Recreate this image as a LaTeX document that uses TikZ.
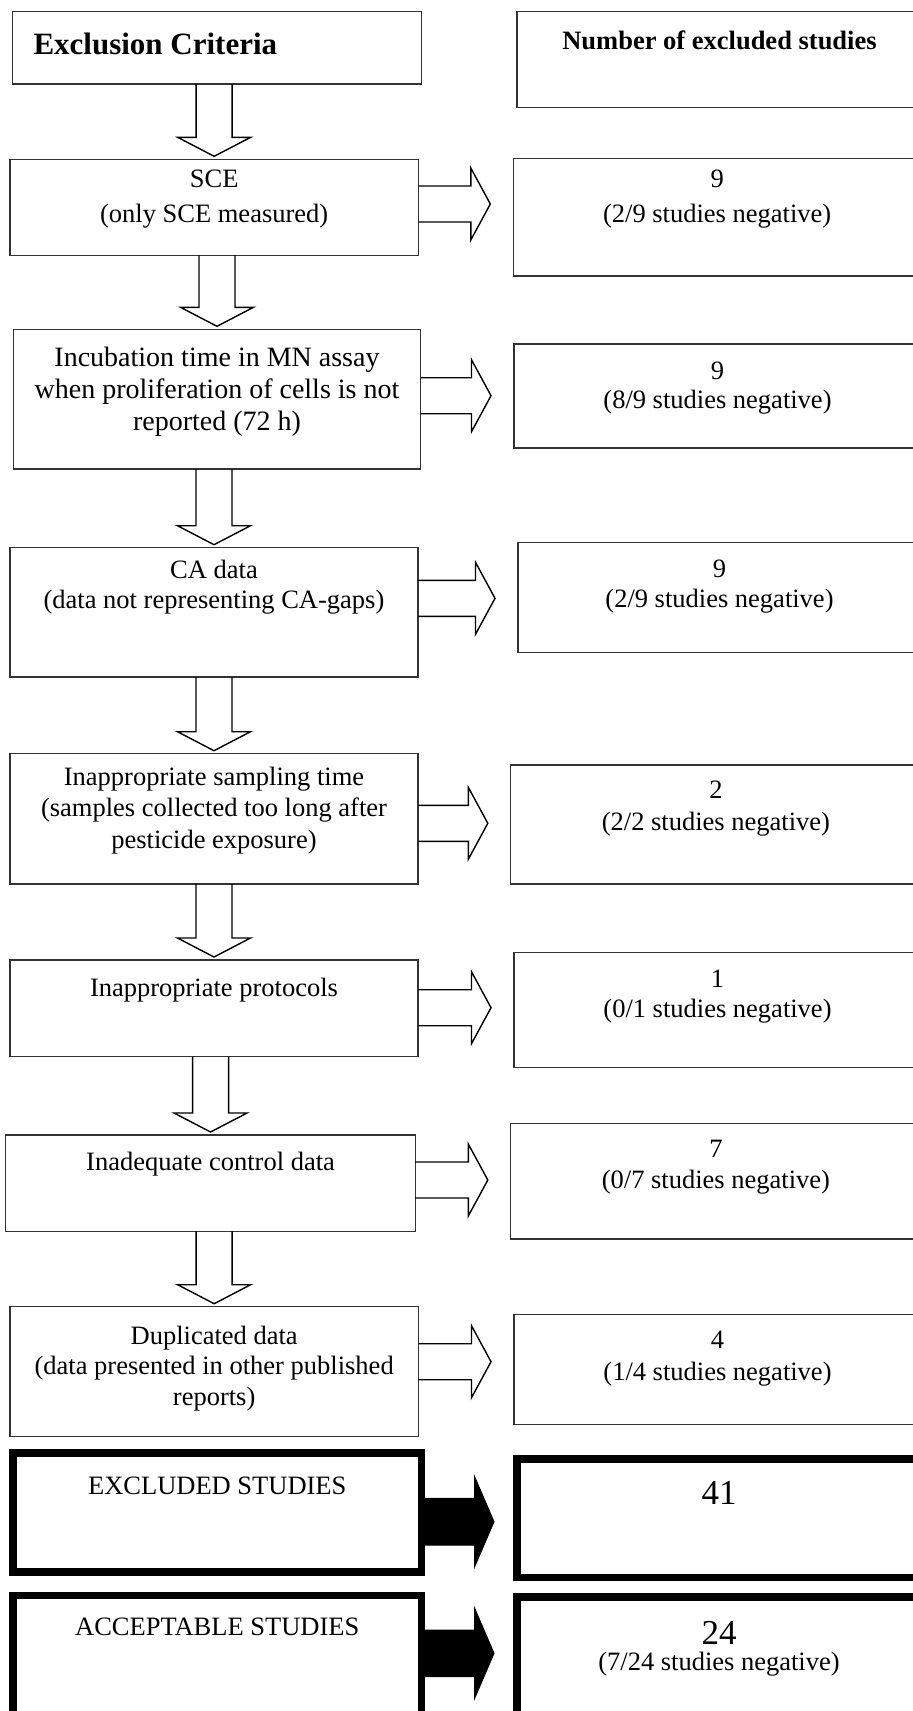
\documentclass[tikz,border=0pt]{standalone}
\usepackage{fontspec}
\setmainfont{Liberation Serif}
\usetikzlibrary{calc}

\tikzset{
  crit/.style={draw=black!80, line width=1.2pt, inner sep=0pt, outer sep=0pt},
  total/.style={draw=black, line width=7.7pt, inner sep=0pt, outer sep=0pt},
  txt/.style={inner sep=0pt, anchor=north, align=center, font=\fontsize{26.5}{30.5}\selectfont},
  hollow/.style={draw=black, line width=1.4pt, line join=miter},
  filled/.style={draw=black, fill=black, line width=1pt, line join=miter}
}

% down arrow from box #1 to box #2
\newcommand{\downarr}[2]{%
  \draw[hollow] ($(#2.north |- #1.south)+(-18,0)$) -- ($(#2.north)+(-18,-22)$)
    -- ++(-18.5,0) -- ($(#2.north)+(0,-3)$) -- ($(#2.north)+(36.5,-22)$)
    -- ++(-18.5,0) -- ($(#2.north |- #1.south)+(18,0)$);
}
% side arrow: style, from, to, height, half shaft, half head
\newcommand{\sidearr}[6]{%
  \draw[#1] ($(#2.east |- 0,#4)+(0,-#5)$) -- ($(#3.west |- 0,#4)+(-42.5,-#5)$)
    -- ($(#3.west |- 0,#4)+(-42.5,-#6)$) -- ($(#3.west |- 0,#4)+(-23,0)$)
    -- ($(#3.west |- 0,#4)+(-42.5,#6)$) -- ($(#3.west |- 0,#4)+(-42.5,#5)$)
    -- ($(#2.east |- 0,#4)+(0,#5)$);
}

\begin{document}
\begin{tikzpicture}[x=1pt,y=-1pt]
\clip (0,0) rectangle (913,1711);

\node[crit, minimum width=409, minimum height=72.3] (excl) at (217.2,47.85) {};
\node[anchor=north west, inner sep=0pt, font=\bfseries\fontsize{31}{34}\selectfont] (exclt) at ([xshift=20.6pt,yshift=-20.6pt]excl.north west) {Exclusion Criteria};

\node[crit, minimum width=405, minimum height=96] (num) at (719.5,59.7) {};
\node[txt, font=\bfseries\fontsize{26.5}{30.5}\selectfont] (numt) at ([yshift=-18.5pt]num.north) {Number of excluded studies};

\node[crit, minimum width=408.3, minimum height=96] (sce) at (214.15,207.3) {};
\node[txt, font=\fontsize{26.5}{35}\selectfont] (scet) at ([yshift=-10.6pt]sce.north) {SCE\\(only SCE measured)};

\node[crit, minimum width=407.7, minimum height=117.7] (n1) at (717.15,217.15) {};
\node[txt, font=\fontsize{26.5}{35}\selectfont] (n1t) at ([yshift=-11.5pt]n1.north) {9\\(2/9 studies negative)};

\node[crit, minimum width=407.4, minimum height=139.7] (incub) at (217,399.15) {};
\node[txt, font=\fontsize{28}{32}\selectfont] (incubt) at ([yshift=-17.5pt]incub.north) {Incubation time in MN assay\\when proliferation of cells is not\\reported (72 h)};

\node[crit, minimum width=407, minimum height=104] (n2) at (717.5,396) {};
\node[txt, font=\fontsize{26.5}{29}\selectfont] (n2t) at ([yshift=-18.1pt]n2.north) {9\\(8/9 studies negative)};

\node[crit, minimum width=408, minimum height=129.3] (cadata) at (214,612.35) {};
\node[txt] (cadatat) at ([yshift=-12pt]cadata.north) {CA data\\(data not representing CA-gaps)};

\node[crit, minimum width=403, minimum height=110] (n3) at (719.5,597.3) {};
\node[txt, font=\fontsize{26.5}{30}\selectfont] (n3t) at ([yshift=-17.8pt]n3.north) {9\\(2/9 studies negative)};

\node[crit, minimum width=408, minimum height=130.3] (sampl) at (214,818.85) {};
\node[txt, font=\fontsize{26.5}{31.5}\selectfont] (samplt) at ([yshift=-13.2pt]sampl.north) {Inappropriate sampling time\\(samples collected too long after\\pesticide exposure)};

\node[crit, minimum width=410.2, minimum height=119] (n4) at (715.9,824.5) {};
\node[txt, font=\fontsize{26.5}{32}\selectfont] (n4t) at ([yshift=-16.1pt]n4.north) {2\\(2/2 studies negative)};

\node[crit, minimum width=408, minimum height=96.7] (protoc) at (214,1008.35) {};
\node[txt] (protoct) at ([yshift=-18.2pt]protoc.north) {Inappropriate protocols};

\node[crit, minimum width=407, minimum height=115] (n5) at (717.5,1009.8) {};
\node[txt, font=\fontsize{26.5}{30}\selectfont] (n5t) at ([yshift=-17.8pt]n5.north) {1\\(0/1 studies negative)};

\node[crit, minimum width=409.5, minimum height=96.3] (contr) at (210.55,1183.15) {};
\node[txt] (contrt) at ([yshift=-17pt]contr.north) {Inadequate control data};

\node[crit, minimum width=410.2, minimum height=115.7] (n6) at (715.9,1181.15) {};
\node[txt, font=\fontsize{26.5}{31}\selectfont] (n6t) at ([yshift=-16.8pt]n6.north) {7\\(0/7 studies negative)};

\node[crit, minimum width=408.3, minimum height=130] (dupl) at (214.15,1371.7) {};
\node[txt] (duplt) at ([yshift=-19pt]dupl.north) {Duplicated data\\(data presented in other published\\reports)};

\node[crit, minimum width=407, minimum height=110] (n7) at (717.5,1369.3) {};
\node[txt, font=\fontsize{26.5}{32}\selectfont] (n7t) at ([yshift=-16.8pt]n7.north) {4\\(1/4 studies negative)};

\node[total, minimum width=408.5, minimum height=119] (excluded) at (217.25,1512.5) {};
\node[txt] (excludedt) at ([yshift=-23.5pt]excluded.north) {EXCLUDED STUDIES};

\node[total, minimum width=404, minimum height=118.7] (sum) at (719,1518.15) {};
\node[txt, font=\fontsize{35}{40}\selectfont] (sumt) at ([yshift=-22pt]sum.north) {41};

\node[total, minimum width=408.5, minimum height=134.5] (accept) at (217.25,1662.75) {};
\node[txt] (acceptt) at ([yshift=-21.8pt]accept.north) {ACCEPTABLE STUDIES};

\node[total, minimum width=404, minimum height=133] (kept) at (719,1663.5) {};
\node[txt, font=\fontsize{26.5}{26}\selectfont] (keptt) at ([yshift=-24.3pt]kept.north) {{\fontsize{35}{26}\selectfont 24}\\(7/24 studies negative)};

\downarr{excl}{sce}
\downarr{sce}{incub}
\downarr{incub}{cadata}
\downarr{cadata}{sampl}
\downarr{sampl}{protoc}
\downarr{protoc}{contr}
\downarr{contr}{dupl}

\sidearr{hollow}{sce}{n1}{204}{18}{36}
\sidearr{hollow}{incub}{n2}{395.7}{18}{36}
\sidearr{hollow}{cadata}{n3}{598.3}{18}{36}
\sidearr{hollow}{sampl}{n4}{823.3}{18}{36}
\sidearr{hollow}{protoc}{n5}{1007.7}{18}{36}
\sidearr{hollow}{contr}{n6}{1180}{18}{36}
\sidearr{hollow}{dupl}{n7}{1361.7}{18}{36}
\sidearr{filled}{excluded}{sum}{1521.7}{23.3}{45.3}
\sidearr{filled}{accept}{kept}{1653.3}{23.3}{45.3}

\end{tikzpicture}
\end{document}
